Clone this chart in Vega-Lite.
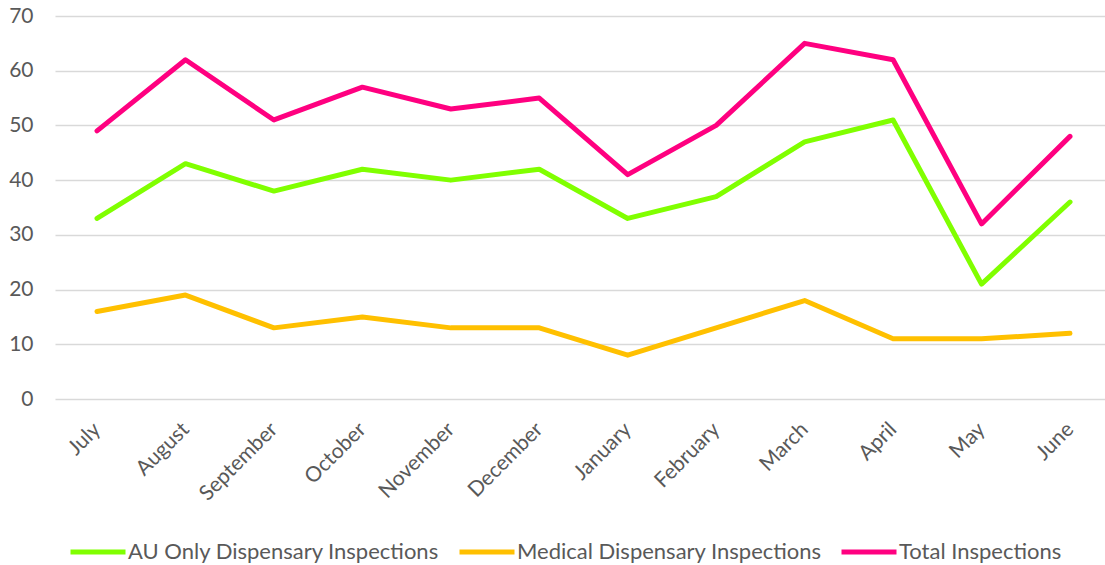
{
  "$schema": "https://vega.github.io/schema/vega-lite/v6.json",
  "autosize": {"type": "none"},
  "padding": {"left": 55, "top": 16, "right": 0, "bottom": 166},
  "width": 1057,
  "height": 383,
  "background": "white",
  "config": {
    "view": {"stroke": null},
    "font": "Lato"
  },
  "data": {
    "values": [
      {"month": "July", "series": "AU Only Dispensary Inspections", "value": 33},
      {"month": "August", "series": "AU Only Dispensary Inspections", "value": 43},
      {"month": "September", "series": "AU Only Dispensary Inspections", "value": 38},
      {"month": "October", "series": "AU Only Dispensary Inspections", "value": 42},
      {"month": "November", "series": "AU Only Dispensary Inspections", "value": 40},
      {"month": "December", "series": "AU Only Dispensary Inspections", "value": 42},
      {"month": "January", "series": "AU Only Dispensary Inspections", "value": 33},
      {"month": "February", "series": "AU Only Dispensary Inspections", "value": 37},
      {"month": "March", "series": "AU Only Dispensary Inspections", "value": 47},
      {"month": "April", "series": "AU Only Dispensary Inspections", "value": 51},
      {"month": "May", "series": "AU Only Dispensary Inspections", "value": 21},
      {"month": "June", "series": "AU Only Dispensary Inspections", "value": 36},
      {"month": "July", "series": "Medical Dispensary Inspections", "value": 16},
      {"month": "August", "series": "Medical Dispensary Inspections", "value": 19},
      {"month": "September", "series": "Medical Dispensary Inspections", "value": 13},
      {"month": "October", "series": "Medical Dispensary Inspections", "value": 15},
      {"month": "November", "series": "Medical Dispensary Inspections", "value": 13},
      {"month": "December", "series": "Medical Dispensary Inspections", "value": 13},
      {"month": "January", "series": "Medical Dispensary Inspections", "value": 8},
      {"month": "February", "series": "Medical Dispensary Inspections", "value": 13},
      {"month": "March", "series": "Medical Dispensary Inspections", "value": 18},
      {"month": "April", "series": "Medical Dispensary Inspections", "value": 11},
      {"month": "May", "series": "Medical Dispensary Inspections", "value": 11},
      {"month": "June", "series": "Medical Dispensary Inspections", "value": 12},
      {"month": "July", "series": "Total Inspections", "value": 49},
      {"month": "August", "series": "Total Inspections", "value": 62},
      {"month": "September", "series": "Total Inspections", "value": 51},
      {"month": "October", "series": "Total Inspections", "value": 57},
      {"month": "November", "series": "Total Inspections", "value": 53},
      {"month": "December", "series": "Total Inspections", "value": 55},
      {"month": "January", "series": "Total Inspections", "value": 41},
      {"month": "February", "series": "Total Inspections", "value": 50},
      {"month": "March", "series": "Total Inspections", "value": 65},
      {"month": "April", "series": "Total Inspections", "value": 62},
      {"month": "May", "series": "Total Inspections", "value": 32},
      {"month": "June", "series": "Total Inspections", "value": 48}
    ]
  },
  "mark": {"type": "line", "strokeWidth": 5, "strokeCap": "round", "strokeJoin": "round"},
  "encoding": {
    "x": {
      "field": "month",
      "type": "nominal",
      "sort": ["July", "August", "September", "October", "November", "December", "January", "February", "March", "April", "May", "June"],
      "scale": {"type": "point", "padding": 0.475},
      "axis": {
        "title": null,
        "domain": false,
        "ticks": false,
        "grid": false,
        "labelAngle": -45,
        "labelAlign": "right",
        "labelBaseline": "middle",
        "labelPadding": 27,
        "labelFontSize": 21,
        "labelColor": "#595959"
      }
    },
    "y": {
      "field": "value",
      "type": "quantitative",
      "scale": {"domain": [0, 70], "nice": false},
      "axis": {
        "title": null,
        "values": [0, 10, 20, 30, 40, 50, 60, 70],
        "domain": false,
        "ticks": false,
        "grid": true,
        "gridColor": "#D9D9D9",
        "gridWidth": 1.5,
        "labelPadding": 22,
        "labelFontSize": 21,
        "labelColor": "#595959"
      }
    },
    "color": {
      "field": "series",
      "type": "nominal",
      "scale": {
        "domain": ["AU Only Dispensary Inspections", "Medical Dispensary Inspections", "Total Inspections"],
        "range": ["#80FF00", "#FFC000", "#FF0080"]
      },
      "legend": {
        "title": null,
        "orient": "none",
        "direction": "horizontal",
        "legendX": 13,
        "legendY": 506,
        "symbolType": "stroke",
        "symbolSize": 3025,
        "symbolStrokeWidth": 5,
        "labelFontSize": 22,
        "labelColor": "#595959",
        "labelOffset": 0,
        "columnPadding": 9,
        "labelLimit": 400
      }
    }
  }
}
